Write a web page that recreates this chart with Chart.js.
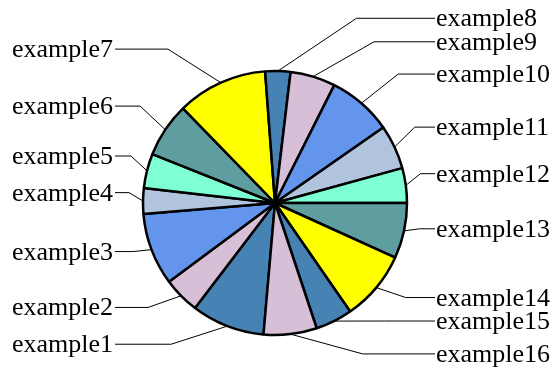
<!DOCTYPE html>
<html>
<head>
<meta charset="utf-8">
<script src="https://cdn.jsdelivr.net/npm/chart.js@4/dist/chart.umd.min.js"></script>
<style>
  html, body { margin: 0; padding: 0; background: #ffffff; }
  #wrap { width: 556px; height: 367px; }
</style>
</head>
<body>
<div id="wrap"><canvas id="c" width="556" height="367"></canvas></div>
<script>
const categories = ['example1','example2','example3','example4','example5','example6','example7','example8',
                    'example9','example10','example11','example12','example13','example14','example15','example16'];
const values = [32.3, 16.1, 31.8, 11.3, 15.2, 24.1, 39.9, 11.1, 19.9, 28.4, 19.6, 15.3, 24.4, 30.9, 16.3, 23.4];
const palette = ['#4682B4','#D8BFD8','#6495ED','#B0C4DE','#7FFFD4','#5F9EA0','#FFFF00'];
const sliceColors = categories.map((_, i) => palette[i % palette.length]);

const FONT_SIZE = 26;
const LABEL_R = 160;
const MIN_GAP = 23.5;

const leaderLabels = {
  id: 'leaderLabels',
  afterDatasetsDraw(chart) {
    const ctx = chart.ctx;
    const arcs = chart.getDatasetMeta(0).data;
    const items = arcs.map((a, i) => {
      const mid = (a.startAngle + a.endAngle) / 2;
      const right = Math.cos(mid) >= 0;
      return {
        i, right,
        value: values[i],
        ax: a.x + a.outerRadius * Math.cos(mid),
        ay: a.y + a.outerRadius * Math.sin(mid),
        lx: a.x + (right ? LABEL_R : -LABEL_R),
        base: a.y + LABEL_R * Math.sin(mid)
      };
    });
    const order = items.slice().sort((p, q) => q.value - p.value);
    const placed = [];
    order.forEach(it => {
      const same = placed.filter(p => p.right === it.right);
      const ok = y => same.every(p => Math.abs(p.y - y) >= MIN_GAP - 1e-6);
      if (ok(it.base)) {
        it.y = it.base;
      } else {
        // move away from the label it collides with, stacking against the next label in that direction
        const hit = same.filter(p => Math.abs(p.y - it.base) < MIN_GAP)
                        .sort((a, b) => Math.abs(a.y - it.base) - Math.abs(b.y - it.base))[0];
        const d = it.base < hit.y ? -1 : 1;
        const beyond = same.filter(p => d < 0 ? p.y < hit.y : p.y > hit.y)
                           .sort((a, b) => Math.abs(a.y - hit.y) - Math.abs(b.y - hit.y))[0];
        let y = beyond ? beyond.y - d * MIN_GAP : hit.y + d * MIN_GAP;
        if (!ok(y)) {
          const cands = [];
          same.forEach(p => { cands.push(p.y - MIN_GAP, p.y + MIN_GAP); });
          const valid = cands.filter(ok).sort((a, b) => Math.abs(a - it.base) - Math.abs(b - it.base));
          y = valid.length ? valid[0] : it.base;
        }
        it.y = y;
      }
      placed.push(it);
    });

    ctx.save();
    ctx.strokeStyle = '#000000';
    ctx.lineWidth = 1;
    ctx.fillStyle = '#000000';
    ctx.font = FONT_SIZE + 'px "Liberation Serif", "Times New Roman", serif';
    ctx.textBaseline = 'alphabetic';
    items.forEach(it => {
      const ly = it.y - 8;
      const ex = (it.ax + it.lx) / 2;
      ctx.beginPath();
      ctx.moveTo(it.ax, it.ay);
      ctx.lineTo(ex, ly);
      ctx.lineTo(it.lx, ly);
      ctx.stroke();
      ctx.textAlign = it.right ? 'left' : 'right';
      ctx.fillText(categories[it.i], it.lx + (it.right ? 1 : -2), it.y);
    });
    ctx.restore();
  }
};

new Chart(document.getElementById('c'), {
  type: 'pie',
  data: {
    labels: categories,
    datasets: [{
      data: values,
      backgroundColor: sliceColors,
      borderColor: '#000000',
      borderWidth: 2.5
    }]
  },
  options: {
    responsive: false,
    animation: false,
    devicePixelRatio: 1,
    rotation: 185,
    layout: { padding: { left: 141.75, right: 147.75, top: 69.75, bottom: 30.75 } },
    plugins: {
      legend: { display: false },
      tooltip: { enabled: false },
      title: { display: false }
    }
  },
  plugins: [leaderLabels]
});
</script>
</body>
</html>
